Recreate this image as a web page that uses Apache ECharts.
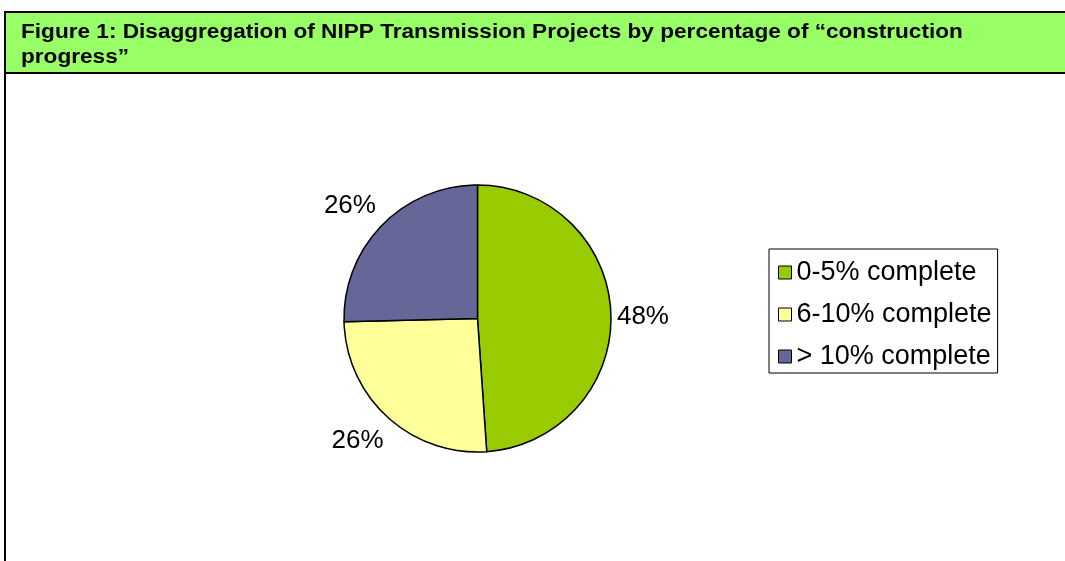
<!DOCTYPE html>
<html>
<head>
<meta charset="utf-8">
<script src="https://cdn.jsdelivr.net/npm/echarts@6/dist/echarts.min.js"></script>
<style>
  html, body { margin: 0; padding: 0; background: #fff; }
  #chart { width: 1065px; height: 561px; }
</style>
</head>
<body>
<div id="chart"></div>
<script>
// chart data (slice sizes, labels as printed)
const categories = ["0-5% complete", "6-10% complete", "> 10% complete"];
const shares = [48.9, 25.7, 25.4];
const labelTexts = ["48%", "26%", "26%"];
const colors = ["#99CC00", "#FFFF99", "#666699"];

// nudges to put the percentage labels where the original has them
const labelNudge = [[6, 3], [-4, 24], [-6, -19]];

const chart = echarts.init(document.getElementById("chart"));
const font = "Liberation Sans, Arial, sans-serif";

chart.setOption({
  animation: false,
  textStyle: { fontFamily: font },
  graphic: [
    // green header band
    {
      type: "rect",
      shape: { x: 5, y: 12, width: 1070, height: 61 },
      style: { fill: "#99FF66", stroke: "#000", lineWidth: 2 },
      z: 0
    },
    // left frame line
    {
      type: "line",
      shape: { x1: 5, y1: 12, x2: 5, y2: 561 },
      style: { stroke: "#000", lineWidth: 2 },
      z: 1
    },
    {
      type: "text",
      x: 21,
      y: 20,
      scaleX: 1.13,
      style: {
        text: "Figure 1: Disaggregation of NIPP Transmission Projects by percentage of \u201cconstruction\nprogress\u201d",
        font: "bold 20px " + font,
        lineHeight: 25,
        fill: "#000"
      },
      z: 2
    }
  ],
  legend: {
    orient: "vertical",
    left: 769,
    top: 249,
    padding: [10, 6, 3, 9],
    itemGap: 15,
    itemWidth: 13,
    itemHeight: 13,
    borderColor: "#000",
    borderWidth: 1,
    icon: "rect",
    itemStyle: { borderColor: "#000", borderWidth: 1 },
    textStyle: { fontSize: 27, color: "#000", fontFamily: font },
    data: categories
  },
  series: [
    {
      type: "pie",
      center: [477.5, 318.5],
      radius: 133.5,
      startAngle: 90,
      clockwise: true,
      itemStyle: { borderColor: "#000", borderWidth: 1.5 },
      label: {
        show: true,
        position: "outside",
        formatter: p => labelTexts[p.dataIndex],
        fontSize: 26,
        color: "#000",
        fontFamily: font,
        distanceToLabelLine: 0
      },
      labelLine: { show: false, length: 0, length2: 0 },
      labelLayout: p => ({ dx: labelNudge[p.dataIndex][0], dy: labelNudge[p.dataIndex][1] }),
      emphasis: { disabled: true },
      data: categories.map((name, i) => ({
        name: name,
        value: shares[i],
        itemStyle: { color: colors[i] }
      }))
    }
  ]
});
</script>
</body>
</html>
